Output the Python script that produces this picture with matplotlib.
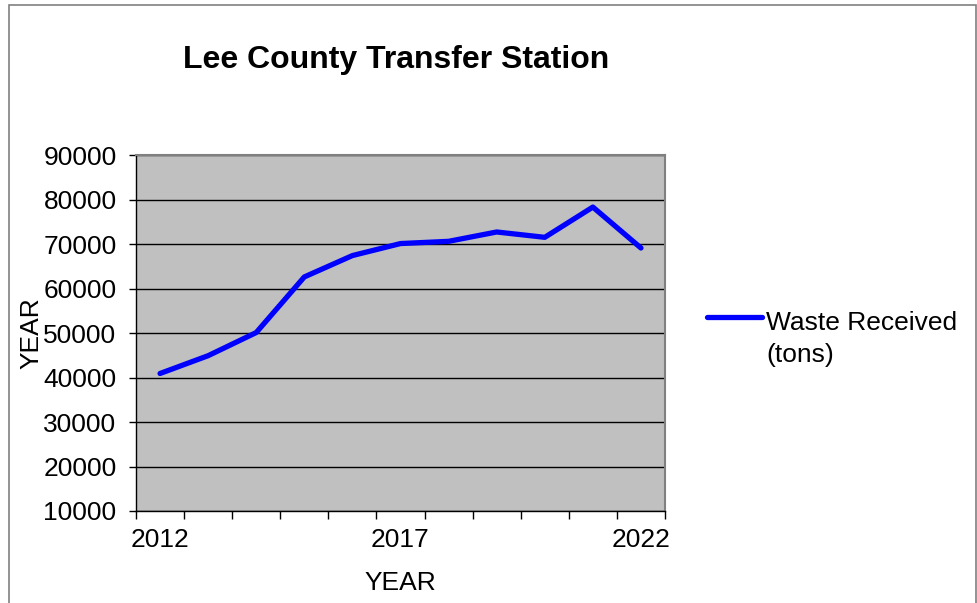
import matplotlib.pyplot as plt
from matplotlib.patches import Rectangle
from matplotlib.legend_handler import HandlerLine2D

# data
years = [2012, 2013, 2014, 2015, 2016, 2017, 2018, 2019, 2020, 2021, 2022]
waste = [40900, 44900, 50100, 62600, 67400, 70100, 70600, 72700, 71500, 78300, 69100]
tick_years = [2012, 2017, 2022]

plt.rcParams['font.family'] = ['Liberation Sans', 'DejaVu Sans']


# legend line sits level with the first text line, like the spreadsheet chart
class TopLineHandler(HandlerLine2D):
    def create_artists(self, legend, orig_handle, xdescent, ydescent,
                       width, height, fontsize, trans):
        return super().create_artists(legend, orig_handle, xdescent,
                                      ydescent - 1.7*fontsize, width, height,
                                      fontsize, trans)


fig = plt.figure(figsize=(9.77, 6.03), dpi=100)
ax = fig.add_axes([136/977, 1-511/603, (665-136)/977, (511-155)/603])

# outer chart frame
fig.patches.append(Rectangle((9/977, -0.02), (976-9)/977, 1.02-5/603,
                             transform=fig.transFigure, fill=False,
                             edgecolor='#808080', linewidth=1.2))

x = list(range(len(years)))
line, = ax.plot(x, waste, color='#0000FF', linewidth=3.8, solid_capstyle='round',
                label='Waste Received\n(tons)')

ax.set_facecolor('#C0C0C0')
ax.set_xlim(-0.5, len(years)-0.5)
ax.set_ylim(10000, 90000)
ax.set_yticks(range(10000, 90001, 10000))
ax.yaxis.grid(True, color='black', linewidth=1)
ax.set_axisbelow(True)

# category ticks between years, labels only on some years
ax.set_xticks([i-0.5 for i in range(len(years)+1)])
ax.set_xticklabels([])
ax.set_xticks([years.index(y) for y in tick_years], minor=True)
ax.set_xticklabels([str(y) for y in tick_years], minor=True)
ax.tick_params(axis='x', which='minor', length=0, pad=12, labelsize=19)
ax.tick_params(axis='x', which='major', length=6, width=1, direction='out')
ax.tick_params(axis='y', length=5, width=1, labelsize=19, pad=9)

for s in ['top', 'right']:
    ax.spines[s].set_color('#808080')
    ax.spines[s].set_linewidth(1.5)
for s in ['left', 'bottom']:
    ax.spines[s].set_color('black')
    ax.spines[s].set_linewidth(1)

ax.set_xlabel('YEAR', fontsize=19, labelpad=14)
ax.set_ylabel('YEAR', fontsize=19, labelpad=0)

fig.text(396/977, 1-60/603, 'Lee County Transfer Station', fontsize=23,
         fontweight='bold', ha='center', va='center')

leg = ax.legend(loc='center left', bbox_to_anchor=(1.034, 0.483), frameon=False,
                fontsize=19, handlelength=2.1, handletextpad=0.15,
                handler_map={line: TopLineHandler()})
for t in leg.get_texts():
    t.set_linespacing(1.45)

fig.savefig('out.png', dpi=100, facecolor='white')
